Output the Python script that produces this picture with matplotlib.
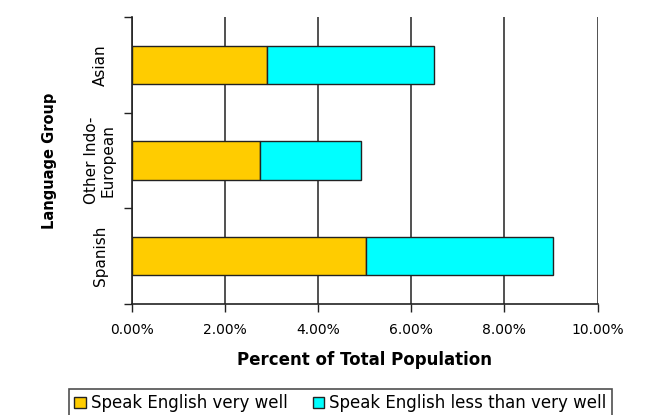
import matplotlib
matplotlib.use("Agg")
import matplotlib.pyplot as plt
from matplotlib.ticker import FuncFormatter

# data (percent of total population)
groups = ["Spanish", "Other Indo-\nEuropean", "Asian"]
very_well = [5.03, 2.75, 2.90]
less_than_very_well = [4.01, 2.16, 3.58]
series_names = ["Speak English very well", "Speak English less than very well"]

YELLOW = "#ffcc00"
CYAN = "#00ffff"

plt.rcParams["font.family"] = ["DejaVu Sans"]

fig = plt.figure(figsize=(6.47, 4.15), dpi=100)
fig.patch.set_facecolor("white")
ax = fig.add_axes([132 / 647, 1 - 304 / 415, 465.5 / 647, 287 / 415])

ypos = list(range(len(groups)))
ax.barh(ypos, very_well, height=0.4, color=YELLOW, edgecolor="#222222",
        linewidth=1, label=series_names[0], zorder=3)
ax.barh(ypos, less_than_very_well, left=very_well, height=0.4, color=CYAN,
        edgecolor="#222222", linewidth=1, label=series_names[1], zorder=3)

ax.set_xlim(0, 10)
ax.set_ylim(-0.5, 2.5)
ax.set_xticks([0, 2, 4, 6, 8, 10])
ax.xaxis.set_major_formatter(FuncFormatter(lambda v, p: f"{v:.2f}%"))
ax.set_yticks(ypos)
ax.set_yticklabels(groups, rotation=90, va="center", ha="center",
                   multialignment="center", fontsize=11, linespacing=1.1)
ax.set_yticks([-0.5, 0.5, 1.5, 2.5], minor=True)
ax.tick_params(axis="y", which="major", length=0, pad=23)
ax.tick_params(axis="y", which="minor", length=6, width=1, color="#222222")
ax.tick_params(axis="x", length=6, width=1, color="#222222", labelsize=10, pad=8)

ax.grid(axis="x", color="#333333", linewidth=1.2, zorder=0)
for s in ("top", "right"):
    ax.spines[s].set_visible(False)
for s in ("left", "bottom"):
    ax.spines[s].set_color("#222222")
    ax.spines[s].set_linewidth(1.2)

ax.set_xlabel("Percent of Total Population", fontsize=12, fontweight="bold", labelpad=10)
ax.set_ylabel("Language Group", fontsize=10.5, fontweight="bold", labelpad=20)

handles, labels = ax.get_legend_handles_labels()
leg = fig.legend(handles, labels, ncol=2, loc="lower left",
                 bbox_to_anchor=(61 / 647, -0.026), frameon=True, fancybox=False,
                 edgecolor="#222222", fontsize=12, handlelength=0.7, handleheight=0.7,
                 handletextpad=0.3, columnspacing=1.5, borderpad=0.3)
leg.get_frame().set_linewidth(1.2)

fig.savefig("out.png", dpi=100, facecolor="white")
